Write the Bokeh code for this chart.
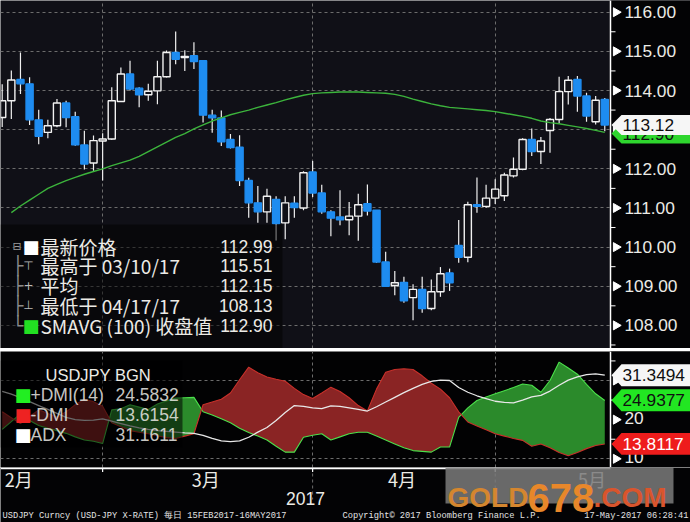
import numpy as np
import pandas as pd
from bokeh.plotting import figure
from bokeh.layouts import column
from bokeh.models import Range1d, FixedTicker, Label, BoxAnnotation, ColumnDataSource, Grid, Span
from bokeh.core.properties import value
from bokeh.embed import file_html
from bokeh.resources import INLINE

# ---------------- data ----------------
dates = pd.bdate_range("2017-02-13", "2017-05-16")
opens = [113.31, 113.74, 114.28, 114.17, 113.25, 112.93, 113.10, 113.68, 113.33, 112.61,
         112.15, 112.71, 112.76, 113.72, 114.42, 114.06, 113.89, 113.99, 114.35, 114.97,
         114.84, 114.89, 114.76, 113.37, 113.30, 112.75, 112.55, 111.70, 111.13, 110.90,
         111.22, 110.62, 111.12, 111.00, 111.92, 111.38, 110.90, 110.77, 110.70, 110.79,
         111.11, 110.94, 109.62, 109.02, 109.10, 108.71, 108.92, 108.43, 108.86, 109.34,
         110.04, 109.74, 111.08, 111.04, 111.25, 111.31, 111.82, 111.99, 112.75, 112.44,
         112.98, 113.26, 113.97, 114.28, 113.86, 113.20, 113.77]
highs = [114.16, 114.51, 114.97, 114.34, 113.51, 113.25, 113.78, 113.74, 113.46, 112.97,
         112.85, 112.91, 114.08, 114.59, 114.76, 114.08, 114.17, 114.76, 115.02, 115.51,
         115.03, 115.23, 114.78, 113.51, 113.49, 112.89, 112.86, 111.77, 111.56, 111.49,
         111.30, 111.30, 111.30, 111.94, 112.20, 111.59, 110.94, 111.45, 111.15, 111.36,
         111.60, 110.95, 109.88, 109.39, 109.24, 109.05, 109.24, 109.17, 109.49, 109.45,
         110.69, 111.16, 111.78, 111.59, 111.73, 111.90, 112.29, 112.78, 113.03, 112.81,
         113.30, 114.35, 114.37, 114.37, 113.94, 113.86, 113.81]
lows = [113.07, 113.27, 113.91, 113.12, 112.63, 112.78, 113.06, 113.06, 112.59, 111.98,
        111.95, 111.70, 112.74, 113.71, 114.00, 113.57, 113.74, 113.65, 114.33, 114.67,
        114.50, 114.55, 113.18, 112.92, 112.58, 112.52, 111.56, 110.75, 110.62, 110.62,
        110.17, 110.20, 110.75, 110.94, 111.28, 110.85, 110.28, 110.56, 110.30, 110.16,
        110.81, 109.60, 109.00, 108.77, 108.58, 108.13, 108.32, 108.39, 108.73, 108.88,
        109.60, 109.61, 110.88, 111.00, 111.10, 111.18, 111.78, 111.96, 112.33, 112.12,
        112.41, 113.15, 113.64, 113.46, 113.20, 113.13, 112.96]
closes = [113.74, 114.27, 114.17, 113.25, 112.83, 113.10, 113.68, 113.31, 112.61, 112.12,
          112.72, 112.76, 113.74, 114.42, 114.04, 113.89, 113.98, 114.35, 114.97, 114.80,
          114.87, 114.74, 113.37, 113.30, 112.69, 112.54, 111.70, 111.13, 110.90, 111.30,
          110.60, 111.13, 111.01, 111.90, 111.38, 110.90, 110.74, 110.70, 110.79, 111.08,
          110.92, 109.62, 109.00, 109.09, 108.63, 108.92, 108.43, 108.86, 109.32, 109.09,
          109.74, 111.08, 111.04, 111.25, 111.48, 111.84, 111.99, 112.75, 112.44, 112.71,
          113.26, 113.97, 114.26, 113.86, 113.35, 113.75, 113.12]
sma100 = [np.nan, 110.88, 111.05, 111.20, 111.35, 111.50, 111.60, 111.70, 111.78, 111.86,
          111.93, 112.00, 112.08, 112.15, 112.22, 112.32, 112.44, 112.56, 112.68, 112.80,
          112.90, 113.02, 113.12, 113.22, 113.30, 113.38, 113.44, 113.50, 113.57, 113.63,
          113.69, 113.76, 113.82, 113.88, 113.92, 113.94, 113.95, 113.96, 113.96, 113.96,
          113.95, 113.94, 113.93, 113.90, 113.85, 113.78, 113.72, 113.66, 113.61, 113.57,
          113.55, 113.53, 113.51, 113.49, 113.46, 113.42, 113.38, 113.34, 113.29, 113.22,
          113.18, 113.15, 113.11, 113.07, 113.03, 112.98, 112.93]
dmi_plus = [17.5, 19.5, 21.5, 19.8, 18.5, 17.8, 17.2, 16.5, 15.6, 14.8,
            14.5, 13.9, 22.5, 22.8, 23.8, 23.2, 22.6, 24.0, 24.8, 25.5,
            25.6, 25.7, 22.0, 21.2, 20.2, 19.2, 17.8, 16.7, 15.8, 14.8,
            13.2, 11.7, 11.7, 15.5, 16.0, 16.4, 14.8, 15.6, 16.4, 16.8,
            16.8, 15.8, 14.8, 13.8, 12.8, 12.1, 11.9, 11.7, 13.0, 13.0,
            20.6, 23.0, 24.9, 25.8, 26.6, 27.4, 28.2, 29.1, 28.8, 27.0,
            30.0, 34.7, 33.2, 31.6, 29.0, 26.6, 24.9]
dmi_minus = [22.0, 20.5, 19.0, 20.8, 22.5, 21.6, 20.6, 22.0, 23.8, 25.2,
             24.6, 23.4, 19.2, 18.2, 17.2, 16.8, 16.4, 15.9, 15.4, 15.2,
             15.8, 16.4, 23.8, 24.5, 25.2, 26.8, 30.2, 33.4, 32.0, 30.9,
             30.3, 29.8, 28.0, 26.4, 25.4, 26.8, 28.3, 27.2, 25.6, 23.6,
             22.2, 27.8, 32.1, 32.8, 33.0, 32.8, 31.2, 29.3, 27.8, 25.6,
             22.0, 19.4, 18.4, 17.4, 16.4, 15.8, 15.2, 14.7, 13.2, 13.8,
             12.8, 11.6, 10.8, 11.6, 12.6, 13.4, 13.8]
adx = [27.2, 26.5, 25.6, 24.6, 23.6, 22.6, 21.6, 20.6, 20.0, 19.8,
       19.9, 20.2, 19.6, 19.0, 18.4, 17.9, 17.5, 17.2, 17.0, 16.8,
       16.6, 16.5, 16.0, 15.2, 14.6, 14.4, 14.6, 15.5, 16.8, 18.0,
       19.8, 21.8, 23.6, 23.4, 23.0, 22.8, 23.5, 23.4, 23.0, 22.6,
       22.2, 23.3, 24.5, 25.7, 26.9, 28.0, 29.0, 29.8, 30.1, 30.0,
       28.2, 27.0, 26.1, 25.4, 24.7, 24.4, 24.3, 25.0, 25.8, 26.2,
       27.3, 28.8, 30.1, 30.9, 31.5, 31.7, 31.35]
price_ticks = [108, 109, 110, 111, 112, 113, 114, 115, 116]
dmi_ticks = [10, 20, 30]
month_label_pos = [1.8, 22.3, 43.8, 64.6]
month_labels = ["2月", "3月", "4月", "5月"]
year_label = "2017"
last_price, high_price, avg_price, low_price, sma_last = "112.99", "115.51", "112.15", "108.13", "112.90"
high_date, low_date = "03/10/17", "04/17/17"
dmi_leg = ["24.5832", "13.6154", "31.1611"]
tag_last, tag_sma = 113.12, 112.90
tag_adx, tag_plus, tag_minus = 31.3494, 24.9377, 13.8117

# ---------------- style / layout helpers ----------------
W = 690
BG1 = "#101017"
BG2 = "#020203"
BORDER = "#030305"
GRID = "#6c6c6c"
BLUE = "#1e8cf0"
TXT = "#ecebe6"
SANS = "Liberation Sans"
CJK = "Noto Sans CJK SC"
PXI = 9.13  # pixels per trading day

n = len(opens)
idx = np.arange(n)
o = np.array(opens); c = np.array(closes)
up = c >= o
month_end = [i for i in range(n - 1) if dates[i].month != dates[i + 1].month]


def rx(x):  # pixel x -> index units
    return (x - 1.7) / PXI


def ry1(y):
    return 116 - (y - 11.7) / 39.15


def ry2(y):
    return 30 - (y - 380) / 3.915


AX = rx(610)          # where the value axis sits
XEND = rx(690)
xr = Range1d(rx(0), XEND)


def lab(fig, x, y, text, color=TXT, size=17, font=SANS, align="left", baseline="middle", **kw):
    fig.add_layout(Label(x=x, y=y, text=text, text_color=color, text_font_size=f"{size}px",
                         text_font=font, text_align=align, text_baseline=baseline, **kw))


def txt(fig, xs, ys, texts, color=TXT, size=17, font=SANS, align="left", baseline="middle", **kw):
    fig.text(x=xs, y=ys, text=texts, text_color=color, text_font=value(font),
             text_font_size=f"{size}px", text_align=align, text_baseline=baseline, **kw)


def value_axis(fig, ticks, labels, minor, yoff=0):
    fig.add_layout(BoxAnnotation(left=AX, right=XEND + 1, bottom=-1000, top=1000,
                                 fill_color=BORDER, fill_alpha=1, line_color=None, level="underlay"))
    fig.add_layout(Span(location=AX, dimension="height", line_color="white", line_width=1.5))
    fig.segment(x0=[AX] * len(minor), y0=minor, x1=[AX + 5 / PXI] * len(minor), y1=minor,
                color="white", line_width=1)
    fig.scatter(x=[rx(615.5)] * len(ticks), y=ticks, marker="triangle", size=9,
                angle=-np.pi / 2, fill_color="white", line_color="white")
    shown = [(t, l) for t, l in zip(ticks, labels) if l]
    txt(fig, [rx(624)] * len(shown), [t for t, _ in shown], [l for _, l in shown], size=17.3,
        y_offset=yoff)


def tag(fig, yc, half, color, text, tcolor):
    xs = [rx(611), rx(621), rx(690), rx(690), rx(621)]
    ys = [yc, yc + half, yc + half, yc - half, yc - half]
    fig.patch(xs, ys, fill_color=color, line_color=None)
    txt(fig, [rx(622)], [yc], [text], color=tcolor, size=17.3)


def hidden_by_tags(t, tags, tol):
    return any(abs(t - g) < tol for g in tags)


# ---------------- top panel ----------------
p1 = figure(width=W, height=348, x_range=xr, y_range=Range1d(ry1(348), ry1(0)),
            toolbar_location=None, output_backend="svg", x_axis_location=None,
            y_axis_location=None, min_border=0, background_fill_color=BG1,
            border_fill_color=BORDER, outline_line_color=None)
p1.xgrid.grid_line_color = None
p1.ygrid.grid_line_color = None
p1.add_layout(Grid(dimension=1, ticker=FixedTicker(ticks=price_ticks), grid_line_color=GRID,
                   grid_line_dash="3 3", grid_line_width=1))
p1.add_layout(Grid(dimension=0, ticker=FixedTicker(ticks=month_end), grid_line_color=GRID,
                   grid_line_dash="3 3", grid_line_width=1))
value_axis(p1, price_ticks,
           ["" if hidden_by_tags(t, [tag_last], 0.3) else f"{t:.2f}" for t in price_ticks],
           [t + 0.5 for t in range(107, 116)])

src = ColumnDataSource(dict(x=idx, top=np.maximum(o, c), bottom=np.minimum(o, c),
                            high=highs, low=lows,
                            fill=[BG1 if u else BLUE for u in up],
                            line=["#f2f2f2" if u else BLUE for u in up]))
p1.segment(x0="x", y0="low", x1="x", y1="high", color="#f0f0f0", line_width=1.2, source=src)
p1.vbar(x="x", width=0.78, top="top", bottom="bottom", fill_color="fill", line_color="line",
        line_width=1.4, source=src)
p1.line(idx, sma100, color="#3cb43c", line_width=1.4)

tag(p1, tag_sma, 0.255, "#2ed62e", f"{tag_sma:.2f}", "#101010")
tag(p1, tag_last, 0.255, "#f6f6f6", f"{tag_last:.2f}", "#101010")

# legend box + text
p1.add_layout(BoxAnnotation(left=rx(0), right=rx(282), bottom=107.0, top=ry1(224),
                            fill_color="black", fill_alpha=0.5, line_color=None))
rows = [245.5, 265, 285, 304.5, 324.5]
texts = ["最新价格", "最高于 " + high_date, "平均", "最低于 " + low_date, "SMAVG (100) 收盘值"]
vals = [last_price, high_price, avg_price, low_price, sma_last]
for ty, t, v in zip(rows, texts, vals):
    lab(p1, rx(40), ry1(ty), t, font=CJK, size=19)
    lab(p1, rx(272), ry1(ty), v, size=17.5, align="right")
lab(p1, rx(12), ry1(rows[0]), "⊟", color="#9a9a9a", size=11, font="DejaVu Sans")
for k in (1, 2, 3):
    lab(p1, rx(12), ry1(rows[k]), "├", color="#8a8a8a", size=18, font="DejaVu Sans Mono")
lab(p1, rx(12), ry1(rows[4]), "└", color="#8a8a8a", size=18, font="DejaVu Sans Mono")
lab(p1, rx(22), ry1(rows[0]), "■", color="white", size=18, font="DejaVu Sans")
lab(p1, rx(28), ry1(rows[1]), "⊤", color="#bbbbbb", size=12, font="DejaVu Sans", align="center")
lab(p1, rx(28), ry1(rows[2]), "+", color="#bbbbbb", size=12, font="DejaVu Sans", align="center")
lab(p1, rx(28), ry1(rows[3]), "⊥", color="#bbbbbb", size=12, font="DejaVu Sans", align="center")
lab(p1, rx(22), ry1(rows[4]), "■", color="#22e022", size=18, font="DejaVu Sans")

# ---------------- separator ----------------
sep = figure(width=W, height=3, toolbar_location=None, output_backend="svg",
             x_axis_location=None, y_axis_location=None, min_border=0,
             background_fill_color="#8e8e8e", border_fill_color="#8e8e8e", outline_line_color=None)
sep.xgrid.grid_line_color = None
sep.ygrid.grid_line_color = None

# ---------------- bottom panel ----------------
p2 = figure(width=W, height=116, x_range=xr, y_range=Range1d(ry2(467), ry2(351)),
            toolbar_location=None, output_backend="svg", x_axis_location=None,
            y_axis_location=None, min_border=0, background_fill_color=BG2,
            border_fill_color=BORDER, outline_line_color=None)
p2.xgrid.grid_line_color = None
p2.ygrid.grid_line_color = None
p2.add_layout(Grid(dimension=1, ticker=FixedTicker(ticks=[10, 30]), grid_line_color=GRID,
                   grid_line_dash="3 3", grid_line_width=1))
p2.add_layout(Grid(dimension=0, ticker=FixedTicker(ticks=month_end), grid_line_color=GRID,
                   grid_line_dash="3 3", grid_line_width=1))

P = np.array(dmi_plus); M = np.array(dmi_minus)
xs, pa, ma = [], [], []
for i in range(n):
    xs.append(i); pa.append(P[i]); ma.append(M[i])
    if i < n - 1:
        d0 = P[i] - M[i]; d1 = P[i + 1] - M[i + 1]
        if d0 * d1 < 0:
            t = d0 / (d0 - d1)
            yc = P[i] + t * (P[i + 1] - P[i])
            xs.append(i + t); pa.append(yc); ma.append(yc)
pa = np.array(pa); ma = np.array(ma)
p2.varea(x=xs, y1=ma, y2=np.maximum(pa, ma), fill_color="#2b8a2b")
p2.varea(x=xs, y1=pa, y2=np.maximum(pa, ma), fill_color="#8a2424")
p2.line(idx, dmi_plus, color="#4be04b", line_width=1.1)
p2.line(idx, dmi_minus, color="#c8302a", line_width=1.1)
p2.line(idx, adx, color="#e8e8e8", line_width=1.3)

value_axis(p2, dmi_ticks,
           ["" if hidden_by_tags(t, [tag_adx], 2.5) else f"{t}" for t in dmi_ticks],
           [15, 25, 35], yoff=-2)
tag(p2, tag_adx, 2.8, "#f6f6f6", f"{tag_adx:.4f}", "#101010")
tag(p2, tag_plus, 2.8, "#22e622", f"{tag_plus:.4f}", "#101010")
tag(p2, tag_minus, 2.8, "#ee1c1c", f"{tag_minus:.4f}", "#ffffff")

p2.add_layout(BoxAnnotation(left=rx(0), right=rx(182), bottom=ry2(447), top=ry2(360),
                            fill_color="black", fill_alpha=0.55, line_color=None))
lab(p2, rx(45), ry2(374), "USDJPY BGN", size=16.5)
leg_rows = [394, 414, 434]
leg_names = ["+DMI(14)", "-DMI", "ADX"]
leg_cols = ["#22ee22", "#ee2222", "white"]
for ty, nm, v, col in zip(leg_rows, leg_names, dmi_leg, leg_cols):
    lab(p2, rx(14), ry2(ty), "■", color=col, size=18, font="DejaVu Sans")
    lab(p2, rx(30), ry2(ty), nm, size=17.5, text_alpha=0.85)
    lab(p2, rx(115), ry2(ty), v, size=17.5, text_alpha=0.85)

# ---------------- time axis strip ----------------
p3 = figure(width=W, height=55, x_range=xr, y_range=Range1d(522, 467),
            toolbar_location=None, output_backend="svg", x_axis_location=None,
            y_axis_location=None, min_border=0, background_fill_color=BORDER,
            border_fill_color=BORDER, outline_line_color=None)
p3.xgrid.grid_line_color = None
p3.ygrid.grid_line_color = None
p3.segment(x0=[34, 54], y0=[467, 467], x1=[34, 54], y1=[499, 503], color=GRID,
           line_dash="3 3", line_width=1)
p3.segment(x0=[rx(0)], y0=[467.9], x1=[AX], y1=[467.9], color="white", line_width=1.6)
p3.segment(x0=month_end, y0=[467] * len(month_end), x1=month_end, y1=[471.5] * len(month_end),
           color="white", line_width=1.2)
txt(p3, month_label_pos, [478.5] * len(month_label_pos), month_labels, font=CJK, size=18,
    align="center")
txt(p3, [rx(305)], [497.5], [year_label], size=17.5, align="center")

FOOT = "Liberation Mono"
lab(p3, rx(2), 515.5, "USDJPY Curncy (USD-JPY X-RATE)  每日 15FEB2017-16MAY2017",
    color="#e4e4e4", size=8.7, font=FOOT)
lab(p3, rx(342), 515.5, "Copyright© 2017 Bloomberg Finance L.P.", color="#e4e4e4", size=8.7, font=FOOT)
lab(p3, rx(688), 515.5, "17-May-2017 06:28:41", color="#e4e4e4", size=8.7, font=FOOT, align="right")

p3.add_layout(BoxAnnotation(left=rx(445), right=rx(673), top=467.5, bottom=503,
                            fill_color="#7a7a7a", fill_alpha=0.86, line_color=None))
lab(p3, rx(447), 497, "GOLD", color="#d4862f", size=28, baseline="alphabetic", text_font_style="bold")
lab(p3, rx(527), 497, "678", color="#e8872a", size=40, baseline="alphabetic", text_font_style="bold")
lab(p3, rx(593), 497, ".COM", color="#d9552d", size=28, baseline="alphabetic", text_font_style="bold")

layout = column(p1, sep, p2, p3, spacing=0)
open("out.html", "w").write(file_html(layout, INLINE))
